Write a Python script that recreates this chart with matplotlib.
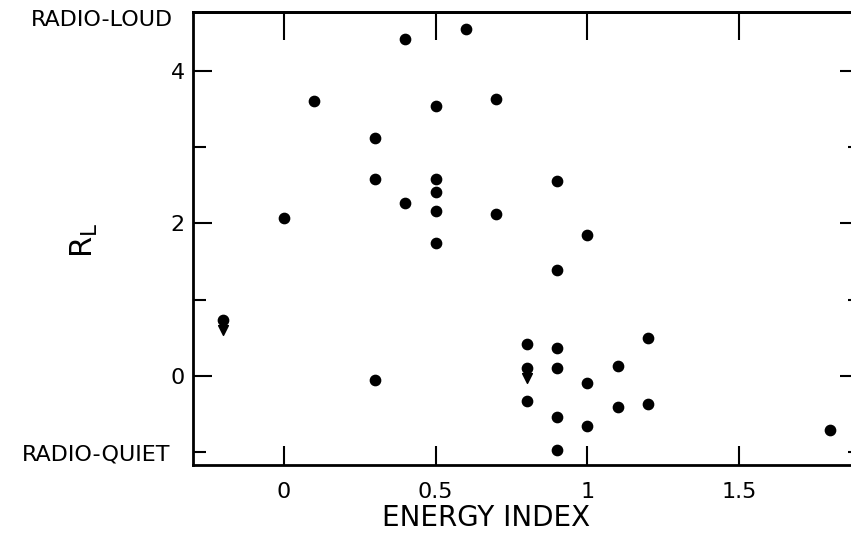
import matplotlib
matplotlib.use("Agg")
import matplotlib.pyplot as plt
from matplotlib.ticker import FixedLocator

# energy index (x) and radio loudness R_L (y)
energy = [0.0, 0.1, 0.3, 0.3, 0.3, 0.4, 0.4, 0.6, 0.5, 0.5, 0.5, 0.5, 0.5,
          0.7, 0.7, 0.9, 0.9, 1.0, 0.8, 0.8, 0.9, 0.9, 0.9, 0.9,
          1.0, 1.0, 1.1, 1.1, 1.2, 1.2, 1.8]
rl = [2.07, 3.60, -0.05, 3.12, 2.58, 4.42, 2.27, 4.55, 3.54, 2.58, 2.41, 2.16, 1.74,
      3.63, 2.12, 2.56, 1.39, 1.84, 0.42, -0.33, 0.37, 0.10, -0.54, -0.97,
      -0.10, -0.66, 0.13, -0.41, 0.50, -0.37, -0.71]

# upper limits (dot with downward arrow)
lim_energy = [-0.2, 0.8]
lim_rl = [0.73, 0.10]

xticks = [0, 0.5, 1, 1.5]
xticklabels = ["0", "0.5", "1", "1.5"]
yticks = [0, 2, 4]
yticklabels = ["0", "2", "4"]
yminor = [-1, 1, 3]
yminorlabels = ["RADIO-QUIET", "", ""]

fig = plt.figure(figsize=(8.51, 5.37), dpi=100)
ax = fig.add_axes([193 / 851, 1 - 465 / 537, 1 - 193 / 851, (465 - 12) / 537])

ax.scatter(energy, rl, s=55, color="black", zorder=3)
ax.scatter(lim_energy, lim_rl, s=55, color="black", zorder=3)
ax.scatter(lim_energy, [v - 0.13 for v in lim_rl], marker="v", s=50,
           color="black", zorder=3)

ax.set_xlim(-0.3, 1.87)
ax.set_ylim(-1.17, 4.77)

for side in ["left", "bottom", "top"]:
    ax.spines[side].set_linewidth(2)
ax.spines["right"].set_visible(False)

ax.set_xticks(xticks)
ax.set_xticklabels(xticklabels, fontsize=16)
ax.set_yticks(yticks)
ax.set_yticklabels(yticklabels, fontsize=16)
ax.set_yticks(yminor, minor=True)
ax.set_yticklabels(yminorlabels, minor=True, fontsize=16)

ax.tick_params(axis="x", direction="in", length=14, width=1.5, pad=12)
ax.tick_params(axis="y", which="major", direction="in", length=14, width=1.5, pad=6)
ax.tick_params(axis="y", which="minor", direction="in", length=9, width=1.5, pad=16)

# top ticks (longer, no labels)
top = ax.secondary_xaxis("top")
top.set_xticks(xticks)
top.tick_params(direction="in", length=20, width=1.5, labeltop=False)
top.spines["top"].set_linewidth(2)

# right ticks
right = ax.secondary_yaxis("right")
right.set_yticks(yticks)
right.yaxis.set_minor_locator(FixedLocator(yminor))
right.tick_params(which="major", direction="in", length=8, width=1.5, labelright=False)
right.tick_params(which="minor", direction="in", length=2, width=1.5)
right.spines["right"].set_visible(False)

ax.text(-0.03, 4.67, "RADIO-LOUD", transform=ax.get_yaxis_transform(),
        ha="right", va="center", fontsize=16)

ax.set_xlabel("ENERGY INDEX", fontsize=20)
ax.xaxis.set_label_coords(0.445, -0.085)
ax.set_ylabel(r"$\mathregular{R_L}$", fontsize=22)
ax.yaxis.set_label_coords(-0.141, 0.497)

fig.savefig("out.png", dpi=100)
